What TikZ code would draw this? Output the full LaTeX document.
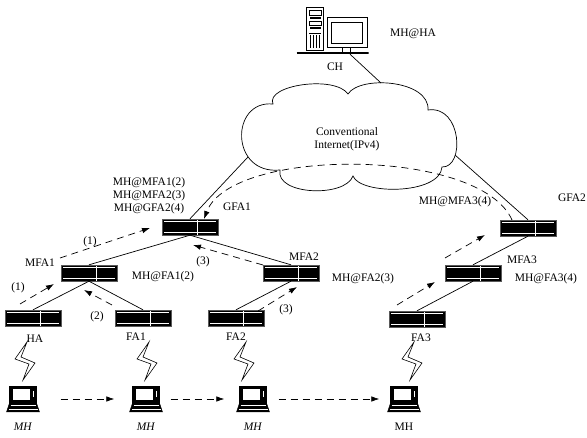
\documentclass[tikz,border=0pt]{standalone}
\usepackage{fontspec}
\setmainfont{Liberation Serif}
\usetikzlibrary{arrows.meta}

\tikzset{
  router/.style={draw=gray!70!black, fill=black, minimum width=56pt, minimum height=16pt, inner sep=0pt,
    path picture={
      \draw[white, line width=0.8pt] ([xshift=7pt]path picture bounding box.north) -- ([xshift=7pt]path picture bounding box.south);
      \draw[white, line width=0.5pt] ([shift={(2pt,-2.5pt)}]path picture bounding box.north west) -- ([shift={(-2pt,-2.5pt)}]path picture bounding box.north east);
      \draw[white, line width=0.5pt] ([shift={(2pt,2.5pt)}]path picture bounding box.south west) -- ([shift={(-2pt,2.5pt)}]path picture bounding box.south east);
    }},
  % drawn about the node centre
  laptop/.style={minimum width=35pt, minimum height=28pt, inner sep=0pt,
    path picture={
      \begin{scope}[x=1pt, y=-1pt]
        \draw[fill=black] (-13.5,-13) rectangle (13.5,4);
        \draw[fill=white] (-11,-10.5) rectangle (7.5,1.5);
        \draw[fill=white] (9,-9) rectangle (11.5,-2);
        \draw[fill=black] (-13.5,4) -- (13.5,4) -- (16.5,13) -- (-16.5,13) -- cycle;
        \draw[white, line width=0.5pt] (-12.5,6.5) -- (12.5,6.5);
        \draw[white, line width=0.5pt] (-14.5,10) -- (14.5,10);
      \end{scope}
    }},
  computer/.style={minimum width=72pt, minimum height=47pt, inner sep=0pt,
    path picture={
      \begin{scope}[x=1pt, y=-1pt]
        % tower
        \draw[fill=white, line width=0.8pt] (-26,-23) rectangle (-9,19.5);
        \draw (-23.5,-20.5) rectangle (-11.5,-15.5);
        \fill (-23,-13.5) rectangle (-12,-11.5);
        \draw (-23.5,-9.5) rectangle (-11.5,-5.5);
        \fill (-23,-3.5) rectangle (-12,-1.5);
        \draw (-23.5,2.5) -- (-11.5,2.5);
        \foreach \t in {-22,-19,-16,-13} \draw (\t,4.5) -- (\t,17.5);
        % monitor
        \draw[fill=white, line width=1pt] (-5,-12.5) rectangle (35,17.5);
        \draw[line width=0.8pt] (-1,-8.5) rectangle (30,12.5);
        \draw (10,17.5) -- (10,21.5) (18,17.5) -- (18,21.5);
        \draw[line width=1.3pt] (-36,22.5) -- (36,22.5);
      \end{scope}
    }},
  link/.style={line width=0.7pt},
  flow/.style={line width=0.7pt, dash pattern=on 7pt off 5pt, -{Latex[length=8pt,width=5.5pt]}},
  bolt/.style={line width=0.6pt, fill=white, line join=miter},
}

\begin{document}
\begin{tikzpicture}[x=1pt, y=-1pt, font=\fontsize{11.5}{13}\selectfont]
  \useasboundingbox (0,0) rectangle (587,438);

  % correspondent host
  \node (pc) [computer] at (332.5,30.5) {};
  \node (ch) at (335,67) {CH};
  \node (chaddr) at (413,34) {MH@HA};

  % the internet cloud
  \draw[link] (273,104) .. controls (265,85) and (335,75) .. (348,94)
    .. controls (360,75) and (430,80) .. (428,110)
    .. controls (462,105) and (465,168) .. (442,167)
    .. controls (440,195) and (360,195) .. (353,176)
    .. controls (345,198) and (275,195) .. (280,170)
    .. controls (230,175) and (230,100) .. (273,104) -- cycle;
  \node (inet) [align=center] at (347,139) {Conventional\\Internet(IPv4)};
  \coordinate (nettop) at (381,83);
  \coordinate (netleft) at (248,157);
  \coordinate (netright) at (455,155);

  % agents
  \node (gfa1) [router] at (190,227) {};
  \node (mfa1) [router] at (89,273) {};
  \node (mfa2) [router] at (291,273) {};
  \node (ha)   [router] at (33,318) {};
  \node (fa1)  [router] at (143,318) {};
  \node (fa2)  [router] at (236,318) {};
  \node (fa3)  [router] at (417,319) {};
  \node (mfa3) [router] at (473,273) {};
  \node (gfa2) [router] at (528,228) {};

  \node (gfa1lbl) at (237,207) {GFA1};
  \node (mfa1lbl) at (40,263) {MFA1};
  \node (mfa2lbl) at (304,257) {MFA2};
  \node (mfa3lbl) at (522,260) {MFA3};
  \node (gfa2lbl) at (572,198) {GFA2};
  \node (halbl)   at (35,339) {HA};
  \node (fa1lbl)  at (136,337) {FA1};
  \node (fa2lbl)  at (236,337) {FA2};
  \node (fa3lbl)  at (421,338) {FA3};

  \node (gfa1addr) [align=center] at (149,196) {MH@MFA1(2)\\MH@MFA2(3)\\MH@GFA2(4)};
  \node (mfa1addr) at (163,277) {MH@FA1(2)};
  \node (mfa2addr) at (363,279) {MH@FA2(3)};
  \node (gfa2addr) at (455,202) {MH@MFA3(4)};
  \node (mfa3addr) at (546,279) {MH@FA3(4)};

  % wired links
  \draw[link] ([xshift=17.5pt]pc.south) -- (nettop);
  \draw[link] (netleft) -- (gfa1.north);
  \draw[link] (netright) -- (gfa2.north);
  \draw[link] (gfa1.south) -- (mfa1.north);
  \draw[link] (gfa1.south) -- (mfa2.north);
  \draw[link] (mfa1.south) -- (ha.north);
  \draw[link] (mfa1.south) -- (fa1.north);
  \draw[link] (mfa2.south) -- (fa2.north);
  \draw[link] (gfa2.south) -- (mfa3.north);
  \draw[link] (mfa3.south) -- (fa3.north);

  % registration messages
  \draw[flow] ([shift={(-13,-14)}]ha.center) -- ([shift={(-35,11)}]mfa1.center);
  \draw[flow] ([shift={(-29,-15)}]mfa1.center) -- ([shift={(-40,1)}]gfa1.center);
  \draw[flow] ([shift={(-31,-13)}]fa1.center) -- ([shift={(-5,17)}]mfa1.center);
  \draw[flow] ([shift={(-28,-8)}]mfa2.center) -- ([shift={(3,18)}]gfa1.center);
  \draw[flow] ([shift={(22,-7)}]fa2.center) -- ([shift={(6,14)}]mfa2.center);
  \draw[flow] ([shift={(-20,-14)}]fa3.center) -- ([shift={(-38,9)}]mfa3.center);
  \draw[flow] ([shift={(-28,-15)}]mfa3.center) -- ([shift={(-43,7)}]gfa2.center);
  \draw[flow] ([shift={(-16,-8)}]gfa2.center) .. controls (480,147) and (231,147) .. ([shift={(14,-8)}]gfa1.center);

  \node (n1a) at (18,288) {(1)};
  \node (n1b) at (90,242) {(1)};
  \node (n2)  at (97,317) {(2)};
  \node (n3a) at (203,262) {(3)};
  \node (n3b) at (286,310) {(3)};

  % radio links
  \foreach \bx in {25,147,244,412}
    \draw[bolt] (\bx+2,342) -- ++(-12,17) -- ++(14,5) -- ++(-6,16) -- ++(12,-17) -- ++(-14,-6) -- cycle;

  % mobile host moving
  \node (mh1) [laptop, label={[label distance=6pt]below:\textit{MH}}] at (23,399) {};
  \node (mh2) [laptop, label={[label distance=6pt]below:\textit{MH}}] at (146,399) {};
  \node (mh3) [laptop, label={[label distance=6pt]below:\textit{MH}}] at (253,399) {};
  \node (mh4) [laptop, label={[label distance=6pt]below:MH}] at (404,399) {};

  \draw[flow] ([xshift=20pt]mh1.east) -- ([xshift=-14pt]mh2.west);
  \draw[flow] ([xshift=7pt]mh2.east) -- ([xshift=-11pt]mh3.west);
  \draw[flow] ([xshift=8pt]mh3.east) -- ([xshift=-7pt]mh4.west);
\end{tikzpicture}
\end{document}
